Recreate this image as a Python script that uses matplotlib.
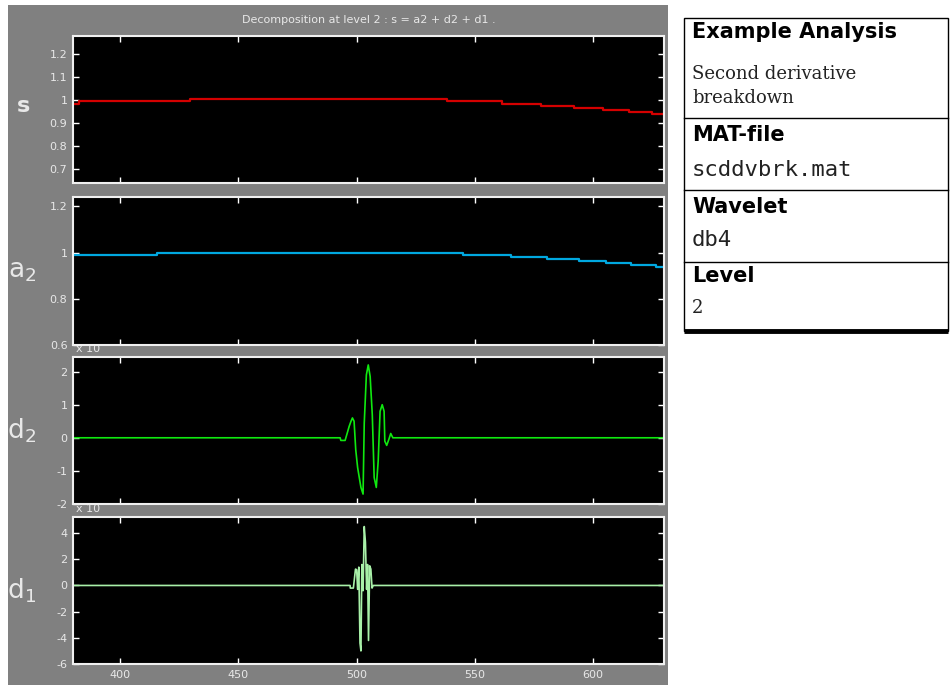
"""Wavelet decomposition at level 2 (db4) of the second derivative breakdown signal."""
import matplotlib
matplotlib.use("Agg")
import matplotlib.pyplot as plt
from matplotlib.patches import Rectangle
from matplotlib.ticker import FormatStrFormatter

# ----- Data ----------------------------------------------------------------

# s : original signal (staircase rendering)
s_x = [380, 382.6, 429.7, 538.2, 561.5, 578.0, 592.1, 604.1, 615.1, 624.8, 630]
s_y = [0.982, 0.993, 1.003, 0.993, 0.982, 0.974, 0.964, 0.956, 0.946, 0.937, 0.937]

# a2 : approximation at level 2
a2_x = [380, 415.6, 545.0, 565.2, 580.4, 594.2, 605.5, 616.2, 626.6, 630]
a2_y = [0.99, 1.0, 0.99, 0.981, 0.972, 0.964, 0.955, 0.946, 0.938, 0.938]

# d2 : detail at level 2
d2_x = [380, 493.0, 493.3, 495.1, 496.2, 496.8, 497.6, 498.2, 498.9, 499.6,
        500.4, 501.1, 501.8, 502.7, 503.2, 504.1, 504.9, 505.7, 506.6, 507.4,
        508.3, 509.1, 509.9, 510.8, 511.6, 511.9, 512.7, 513.7, 514.4, 515.3, 630]
d2_y = [0, 0, -0.08, -0.08, 0.19, 0.34, 0.5, 0.6, 0.5, -0.36,
        -0.9, -1.2, -1.5, -1.7, 0.44, 1.9, 2.2, 1.85, 0.7, -1.2,
        -1.5, -0.7, 0.8, 1.0, 0.8, -0.1, -0.23, -0.03, 0.13, 0, 0]

# d1 : detail at level 1
d1_x = [380, 497.2, 497.3, 498.6, 499.0, 499.5, 500.0, 500.4, 500.9, 501.4,
        501.8, 502.2, 502.7, 503.2, 503.7, 504.2, 504.6, 505.0, 505.5, 506.0,
        506.5, 507.0, 630]
d1_y = [0, 0, -0.2, -0.2, 0.45, 1.25, 1.2, -0.3, 1.4, -4.4,
        -5.0, 1.6, -0.4, 4.5, 3.3, -0.3, 1.6, -4.2, 1.5, 1.25,
        -0.2, 0, 0]

panels = [
    # label, x, y, colour, ylim, yticks
    ("s", s_x, s_y, "#d40000", (0.637, 1.279), [0.7, 0.8, 0.9, 1.0, 1.1, 1.2]),
    ("a_2", a2_x, a2_y, "#00a8e0", (0.6, 1.24), [0.6, 0.8, 1.0, 1.2]),
    ("d_2", d2_x, d2_y, "#10e810", (-2.0, 2.44), [-2, -1, 0, 1, 2]),
    ("d_1", d1_x, d1_y, "#a8f0a8", (-6.0, 5.23), [-6, -4, -2, 0, 2, 4]),
]
steps = [True, True, False, False]
x_ticks = [400, 450, 500, 550, 600]
xlim = (380, 630)

title = "Decomposition at level 2 : s = a2 + d2 + d1 ."

info_rows = [
    ("Example Analysis", "Second derivative\nbreakdown", "serif"),
    ("MAT-file", "scddvbrk.mat", "mono"),
    ("Wavelet", "db4", "mono"),
    ("Level", "2", "serif"),
]

# ----- Figure -------------------------------------------------------------

W, H = 950, 685
fig = plt.figure(figsize=(W / 100, H / 100), dpi=100)
fig.patch.set_facecolor("white")


def fx(px):
    return px / W


def fy(py):
    return 1 - py / H


# gray panel behind the axes
fig.add_artist(Rectangle((fx(8), 0), fx(668) - fx(8), fy(5), transform=fig.transFigure,
                         facecolor="#808080", edgecolor="none", zorder=-2))

ax_left, ax_right = 73, 664
tops = [36, 197, 357, 517]
bottoms = [183, 345, 504, 664]
fg = "#e8e8e8"

for i, (label, xs, ys, col, ylim, yt) in enumerate(panels):
    ax = fig.add_axes([fx(ax_left), fy(bottoms[i]), fx(ax_right) - fx(ax_left),
                       (bottoms[i] - tops[i]) / H])
    ax.set_facecolor("black")
    ax.plot(xs, ys, color=col, lw=1.6 if steps[i] else 1.2,
            drawstyle="steps-post" if steps[i] else "default")
    ax.set_xlim(*xlim)
    ax.set_ylim(*ylim)
    ax.set_yticks(yt)
    ax.set_xticks(x_ticks)
    ax.yaxis.set_major_formatter(FormatStrFormatter("%g"))
    ax.tick_params(direction="in", length=4, width=1, color="white",
                   labelcolor=fg, labelsize=8, top=True, right=True, pad=4)
    if i < 3:
        ax.tick_params(labelbottom=False)
    for sp in ax.spines.values():
        sp.set_color("#f0f0f0")
        sp.set_linewidth(1.5)

    yc = fy((tops[i] + bottoms[i]) / 2)
    if label == "s":
        fig.text(fx(23), yc + 0.005, "s", color=fg, fontsize=16, fontweight="bold",
                 ha="center", va="center")
    else:
        fig.text(fx(22), yc, r"$\mathregular{%s}$" % label, color=fg, fontsize=19,
                 ha="center", va="center")

# exponent labels ("x 10"), top part hidden behind the axes above
for ypx in (352, 512):
    fig.text(fx(76), fy(ypx), "x 10", color=fg, fontsize=8,
             ha="left", va="baseline", zorder=-1)

fig.text(fx((ax_left + ax_right) / 2), fy(20), title, color=fg, fontsize=8,
         ha="center", va="center")

# ----- Info table ---------------------------------------------------------

tab = fig.add_axes([fx(683), fy(335), fx(950) - fx(683), (335 - 15) / H])
tab.set_xlim(683, 950)
tab.set_ylim(335, 15)
tab.axis("off")
tab.add_patch(Rectangle((683.5, 18), 264.5, 313, facecolor="white",
                        edgecolor="black", lw=1))
for yl in (118, 190, 262):
    tab.plot([683.5, 948], [yl, yl], color="black", lw=1)
tab.plot([683.5, 948], [331, 331], color="black", lw=3.5, solid_capstyle="butt")

head_y = [32, 135, 207, 276]
body_y = [86, 170, 240, 308]
fonts = {"serif": ("DejaVu Serif", 13), "mono": ("DejaVu Sans Mono", 16)}
for (head, body, kind), hy, by in zip(info_rows, head_y, body_y):
    tab.text(692, hy, head, fontsize=15, fontweight="bold", family="DejaVu Sans",
             ha="left", va="center", color="black")
    fam, size = fonts[kind]
    tab.text(692, by, body, fontsize=size, family=fam, ha="left", va="center",
             color="#222222", linespacing=1.4)

fig.savefig("out.png", dpi=100)
